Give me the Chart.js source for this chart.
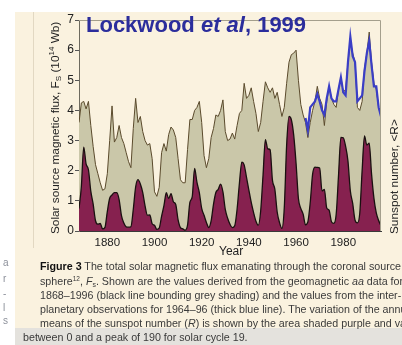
<!DOCTYPE html>
<html>
<head>
<meta charset="utf-8">
<script src="https://cdn.jsdelivr.net/npm/chart.js@4.4.1/dist/chart.umd.min.js"></script>
<style>
  html, body { margin: 0; padding: 0; width: 402px; height: 345px; overflow: hidden; background: #ffffff;
    font-family: "Liberation Sans", Arial, Helvetica, sans-serif; }
  #paper { position: absolute; left: 15px; top: 12px; width: 387px; height: 333px; background: #faf2df; }
  #band { position: absolute; left: 15px; top: 328px; width: 387px; height: 17px; background: #e4e2dd; }
  #rule { position: absolute; left: 33px; top: 12px; width: 1px; height: 236px; background: #e2d8c2; }
  #chart { position: absolute; left: 0; top: 0; }
  .title { position: absolute; left: 86px; top: 14px; font-size: 22px; line-height: 22px; font-weight: bold;
    color: #2b2d9c; white-space: nowrap; }
  .ylab { position: absolute; white-space: nowrap; font-size: 11.8px; line-height: 14px; color: #222;
    transform-origin: 0 0; transform: rotate(-90deg); }
  .ylab sub { font-size: 8px; vertical-align: -2px; line-height: 0; }
  .ylab sup { font-size: 8px; vertical-align: 5px; line-height: 0; }
  .xlab { position: absolute; left: 219px; top: 244px; font-size: 12px; line-height: 14px; color: #222; }
  .cap { position: absolute; left: 40px; white-space: nowrap; font-size: 10.7px; line-height: 12px; color: #3a3a3a; }
  .cap b { color: #111; }
  .cap sup { font-size: 6.5px; vertical-align: 4px; line-height: 0; }
  .cap sub { font-size: 7px; vertical-align: -2px; line-height: 0; }
  .frag { position: absolute; left: 3px; font-size: 10px; line-height: 12px; color: #8c909a; }
</style>
</head>
<body>
<div id="paper"></div>
<div id="band"></div>
<div id="rule"></div>
<canvas id="chart" width="402" height="260"></canvas>

<div class="title">Lockwood <i>et al</i>, 1999</div>
<div class="ylab" style="left:48px; top:234px;">Solar source magnetic flux, F<sub>S</sub> (10<sup>14</sup> Wb)</div>
<div class="ylab" style="left:387px; top:234px;">Sunspot number, &lt;R&gt;</div>
<div class="xlab">Year</div>

<div class="cap" style="top:260px;"><b>Figure 3</b> The total solar magnetic flux emanating through the coronal source</div>
<div class="cap" style="top:275px;">sphere<sup>12</sup>, <i>F</i><sub>s</sub>. Shown are the values derived from the geomagnetic <i>aa</i> data for</div>
<div class="cap" style="top:289px;">1868–1996 (black line bounding grey shading) and the values from the inter-</div>
<div class="cap" style="top:303px;">planetary observations for 1964–96 (thick blue line). The variation of the annual</div>
<div class="cap" style="top:317px;">means of the sunspot number (<i>R</i>) is shown by the area shaded purple and varies</div>
<div class="cap" style="top:331px; left:23px;">between 0 and a peak of 190 for solar cycle 19.</div>

<div class="frag" style="top:257px;">a</div>
<div class="frag" style="top:273px;">r</div>
<div class="frag" style="top:288px;">-</div>
<div class="frag" style="top:302px;">l</div>
<div class="frag" style="top:315px;">s</div>

<script>
// Annual years covered by the geomagnetic (aa) flux record and sunspot means
const years = [
  1868, 1869, 1870, 1871, 1872, 1873, 1874, 1875, 1876, 1877,
  1878, 1879, 1880, 1881, 1882, 1883, 1884, 1885, 1886, 1887,
  1888, 1889, 1890, 1891, 1892, 1893, 1894, 1895, 1896, 1897,
  1898, 1899, 1900, 1901, 1902, 1903, 1904, 1905, 1906, 1907,
  1908, 1909, 1910, 1911, 1912, 1913, 1914, 1915, 1916, 1917,
  1918, 1919, 1920, 1921, 1922, 1923, 1924, 1925, 1926, 1927,
  1928, 1929, 1930, 1931, 1932, 1933, 1934, 1935, 1936, 1937,
  1938, 1939, 1940, 1941, 1942, 1943, 1944, 1945, 1946, 1947,
  1948, 1949, 1950, 1951, 1952, 1953, 1954, 1955, 1956, 1957,
  1958, 1959, 1960, 1961, 1962, 1963, 1964, 1965, 1966, 1967,
  1968, 1969, 1970, 1971, 1972, 1973, 1974, 1975, 1976, 1977,
  1978, 1979, 1980, 1981, 1982, 1983, 1984, 1985, 1986, 1987,
  1988, 1989, 1990, 1991, 1992, 1993, 1994, 1995, 1996
];

// Coronal source flux Fs (10^14 Wb) derived from the aa index
const fluxAa = [
  3.6, 4.25, 4.3, 4.05, 4.3, 3.5, 2.8, 2.2, 1.9, 1.6,
  1.35, 1.4, 1.9, 3.0, 4.15, 2.95, 3.1, 3.5, 3.1, 2.9,
  2.6, 2.3, 2.1, 3.4, 4.4, 3.6, 3.8, 3.3, 3.0, 2.85,
  2.9, 2.4, 1.3, 1.15, 1.45, 2.6, 2.9, 2.65, 3.2, 3.45,
  3.35, 3.1, 2.4, 1.7, 1.6, 1.6, 2.7, 3.7, 3.7, 4.0,
  4.1, 4.3, 3.6, 2.5, 2.1, 2.4, 3.1, 3.4, 3.85, 3.8,
  4.0, 4.35, 3.3, 3.0, 3.05, 3.25, 3.05, 3.5, 3.9, 4.0,
  4.9, 4.4, 4.5, 4.75, 4.3, 3.9, 3.3, 3.6, 4.3, 4.95,
  4.75, 4.6, 4.75, 4.4, 4.6, 4.2, 3.8, 4.1, 4.9, 5.6,
  5.85, 5.9, 6.0, 5.0, 4.2, 3.85, 3.6, 3.1, 3.6, 4.0,
  4.3, 4.8, 4.4, 4.2, 3.5, 4.3, 4.8, 4.4, 4.2, 4.1,
  4.7, 5.1, 4.6, 4.7, 5.6, 6.3, 5.9, 5.6, 4.1, 4.0,
  4.3, 5.4, 5.9, 6.6, 5.6, 4.9, 4.7, 4.1, 3.8
];

// Annual mean sunspot number <R>
const sunspotR = [
  37.3, 73.9, 139.1, 111.2, 101.6, 66.2, 44.7, 17.0, 11.3, 12.4,
  3.4, 6.0, 32.3, 54.3, 59.7, 63.7, 63.5, 52.2, 25.4, 13.1,
  6.8, 6.3, 7.1, 35.6, 73.0, 85.1, 78.0, 64.0, 41.8, 26.2,
  26.7, 12.1, 9.5, 2.7, 5.0, 24.4, 42.0, 63.5, 53.8, 62.0,
  48.5, 43.9, 18.6, 5.7, 3.6, 1.4, 9.6, 47.4, 57.1, 103.9,
  80.6, 63.6, 37.6, 26.1, 14.2, 5.8, 16.7, 44.3, 63.9, 69.0,
  77.8, 64.9, 35.7, 21.2, 11.1, 5.7, 8.7, 36.1, 79.7, 114.4,
  109.6, 88.8, 67.8, 47.5, 30.6, 16.3, 9.6, 33.2, 92.6, 151.6,
  136.3, 134.7, 83.9, 69.4, 31.5, 13.9, 4.4, 38.0, 141.7, 190.2,
  184.8, 159.0, 112.3, 53.9, 37.6, 27.9, 10.2, 15.1, 47.0, 93.8,
  105.9, 105.5, 104.5, 66.6, 68.9, 38.0, 34.5, 15.5, 12.6, 27.5,
  92.5, 155.4, 154.6, 140.4, 115.9, 66.6, 45.9, 17.9, 13.4, 29.4,
  100.2, 157.6, 142.6, 145.7, 94.3, 54.6, 29.9, 17.5, 8.6
];

// Interplanetary (spacecraft) estimate of Fs, 1964-96
const imfYears = [
  1964, 1965, 1966, 1967, 1968, 1969, 1970, 1971, 1972, 1973,
  1974, 1975, 1976, 1977, 1978, 1979, 1980, 1981, 1982, 1983,
  1984, 1985, 1986, 1987, 1988, 1989, 1990, 1991, 1992, 1993,
  1994, 1995, 1996
];
const fluxImf = [
  3.75, 3.35, 4.1, 4.2, 4.3, 4.55, 4.3, 4.0, 3.85, 4.4,
  4.8, 4.4, 4.3, 4.3, 4.7, 5.1, 4.6, 4.5, 5.6, 6.45,
  5.8, 5.6, 4.3, 4.4, 4.5, 5.3, 5.9, 6.3, 5.5, 4.8,
  4.8, 4.1, 3.8
];

const yearTicks = [1880, 1900, 1920, 1940, 1960, 1980];

const pts = (xs, ys) => xs.map((x, i) => ({ x: x, y: ys[i] }));

// thin grey frame round the plotting area
const frame = {
  id: 'frame',
  afterDatasetsDraw(chart) {
    const a = chart.chartArea, c = chart.ctx;
    c.save();
    c.strokeStyle = '#a49f8c';
    c.lineWidth = 1;
    c.beginPath();
    c.moveTo(a.left, a.top + 0.5);
    c.lineTo(a.right - 0.5, a.top + 0.5);
    c.lineTo(a.right - 0.5, a.bottom);
    c.stroke();
    c.restore();
  }
};

new Chart(document.getElementById('chart'), {
  type: 'line',
  data: {
    datasets: [
      {
        label: 'Fs from aa',
        data: pts(years, fluxAa),
        yAxisID: 'y',
        borderColor: '#5a4a2c',
        borderWidth: 1,
        backgroundColor: '#cac7a9',
        fill: 'origin',
        pointRadius: 0,
        tension: 0,
        order: 3
      },
      {
        label: '<R>',
        data: pts(years, sunspotR),
        yAxisID: 'y2',
        borderColor: '#1a1010',
        borderWidth: 1.3,
        backgroundColor: '#86214f',
        fill: 'origin',
        pointRadius: 0,
        cubicInterpolationMode: 'monotone',
        order: 2
      },
      {
        label: 'Fs from IMF',
        data: pts(imfYears, fluxImf),
        yAxisID: 'y',
        borderColor: '#3a3ec6',
        borderWidth: 2.2,
        fill: false,
        pointRadius: 0,
        tension: 0,
        order: 1
      }
    ]
  },
  options: {
    responsive: false,
    animation: false,
    devicePixelRatio: 1,
    layout: { padding: { top: 20, left: 60, right: 21, bottom: 0 } },
    plugins: { legend: { display: false }, tooltip: { enabled: false } },
    scales: {
      x: {
        type: 'linear',
        min: 1868,
        max: 1996,
        afterBuildTicks(s) { s.ticks = yearTicks.map(v => ({ value: v })); },
        afterFit(s) { s.height = 29; },
        grid: { display: false, drawTicks: false },
        border: { display: true, color: '#3a3a3a', width: 1 },
        ticks: { padding: 5, color: '#222', font: { family: 'Liberation Sans', size: 11.5 }, maxRotation: 0,
          callback: v => String(v) }
      },
      y: {
        position: 'left',
        min: 0,
        max: 7,
        afterFit(s) { s.width = 19; },
        grid: { drawOnChartArea: false, drawTicks: true, tickLength: 4, color: '#555' },
        border: { display: true, color: '#6d6a5e', width: 1 },
        ticks: { stepSize: 1, padding: 1, color: '#222', font: { family: 'Liberation Sans', size: 12 } }
      },
      y2: {
        position: 'right',
        min: 0,
        max: 350,
        display: false
      }
    }
  },
  plugins: [frame]
});
</script>
</body>
</html>
